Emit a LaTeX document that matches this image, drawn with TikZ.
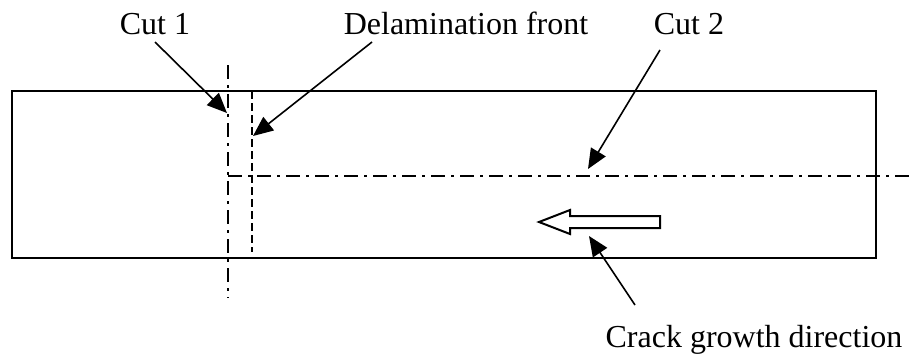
\documentclass[tikz,border=0pt]{standalone}
\usepackage{fontspec}
\setmainfont{Liberation Serif}
\usetikzlibrary{arrows.meta}
\begin{document}
\begin{tikzpicture}[x=1pt,y=-1pt,
  lbl/.style={font=\fontsize{32}{38}\selectfont, inner sep=0pt, anchor=base},
  box/.style={draw, line width=2pt},
  cutline/.style={line width=2pt, dash pattern=on 14pt off 6pt on 3pt off 6pt},
  frontline/.style={line width=2pt, dash pattern=on 8pt off 4pt},
  pointer/.style={line width=1.6pt, -{Triangle[length=20pt,width=17pt]}},
  hollow/.style={draw, line width=2pt, fill=white, line join=miter}]
\useasboundingbox (0,0) rectangle (910,360);
% specimen
\draw[box] (12,91) rectangle (876,258);
% cut lines
\coordinate (c1top) at (228,65);
\coordinate (c1bot) at (228,298);
\draw[cutline] (c1top) -- (c1bot);
\coordinate (c2left) at (228,176);
\coordinate (c2right) at (910,176);
\draw[cutline] (c2left) -- (c2right);
\coordinate (dftop) at (252,91);
\coordinate (dfbot) at (252,252);
\draw[frontline] (dftop) -- (dfbot);
% labels
\node[lbl] (cut1) at (155,34) {Cut 1};
\node[lbl] (delam) at (466,34) {Delamination front};
\node[lbl] (cut2) at (689,34) {Cut 2};
\node[lbl] (crack) at (754,347) {Crack growth direction};
% pointer targets
\coordinate (p1) at (227,113);
\coordinate (p2) at (253,136);
\coordinate (p3) at (588,169);
\coordinate (p4) at (589,236);
\coordinate (s1) at (155,42);
\coordinate (s2) at (372,42);
\coordinate (s3) at (660,50);
\coordinate (s4) at (635,305);
\draw[pointer] (s1) -- (p1);
\draw[pointer] (s2) -- (p2);
\draw[pointer] (s3) -- (p3);
\draw[pointer] (s4) -- (p4);
% hollow arrow
\draw[hollow] (539,222) -- (570,210) -- (570,216) -- (660,216) -- (660,228) -- (570,228) -- (570,234) -- cycle;
\end{tikzpicture}
\end{document}
